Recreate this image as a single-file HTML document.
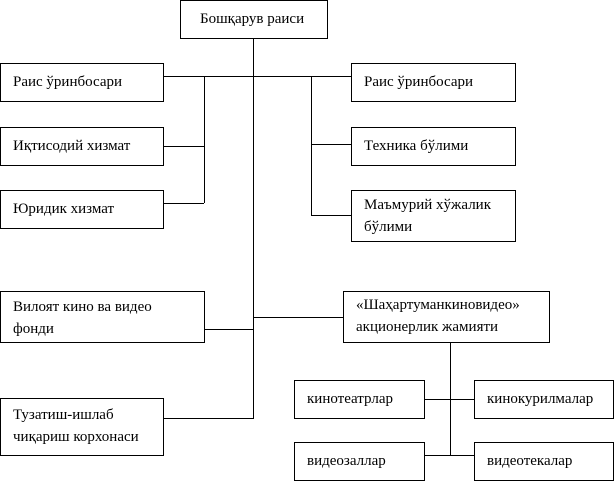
<!DOCTYPE html>
<html><head><meta charset="utf-8"><style>
body{margin:0;width:615px;height:482px;background:#fff;position:relative;overflow:hidden;font-family:"Liberation Serif","Times New Roman","DejaVu Serif",serif;font-size:15px;color:#000}
.b{position:absolute;border:1px solid #000;box-sizing:border-box;background:#fff;padding:0 0 0 12px;line-height:22px;white-space:nowrap}
.l{position:absolute;background:#000}
</style></head><body>
<div class="l" style="left:253px;top:38px;width:1px;height:381px"></div>
<div class="l" style="left:163px;top:76px;width:189px;height:1px"></div>
<div class="l" style="left:204px;top:76px;width:1px;height:127px"></div>
<div class="l" style="left:163px;top:146px;width:41px;height:1px"></div>
<div class="l" style="left:163px;top:203px;width:41px;height:1px"></div>
<div class="l" style="left:311px;top:76px;width:1px;height:140px"></div>
<div class="l" style="left:311px;top:144px;width:41px;height:1px"></div>
<div class="l" style="left:311px;top:215px;width:41px;height:1px"></div>
<div class="l" style="left:204px;top:329px;width:49px;height:1px"></div>
<div class="l" style="left:163px;top:418px;width:90px;height:1px"></div>
<div class="l" style="left:253px;top:317px;width:90px;height:1px"></div>
<div class="l" style="left:450px;top:342px;width:1px;height:113px"></div>
<div class="l" style="left:424px;top:399px;width:50px;height:1px"></div>
<div class="l" style="left:424px;top:455px;width:50px;height:1px"></div>

<div class="b" style="left:180px;top:0;width:148px;height:39px;padding-left:19px;line-height:36px">Бошқарув раиси</div>
<div class="b" style="left:0;top:63px;width:164px;height:39px;line-height:36px">Раис ўринбосари</div>
<div class="b" style="left:0;top:127px;width:164px;height:39px;line-height:36px">Иқтисодий хизмат</div>
<div class="b" style="left:0;top:190px;width:164px;height:39px;line-height:36px">Юридик хизмат</div>
<div class="b" style="left:351px;top:63px;width:165px;height:39px;line-height:36px">Раис ўринбосари</div>
<div class="b" style="left:351px;top:127px;width:165px;height:39px;line-height:36px">Техника бўлими</div>
<div class="b" style="left:351px;top:190px;width:165px;height:52px;padding-top:3px">Маъмурий хўжалик<br>бўлими</div>
<div class="b" style="left:0;top:291px;width:205px;height:52px;padding-top:4px">Вилоят кино ва видео<br>фонди</div>
<div class="b" style="left:0;top:398px;width:164px;height:58px;padding-top:5px">Тузатиш-ишлаб<br>чиқариш корхонаси</div>
<div class="b" style="left:343px;top:291px;width:207px;height:52px;padding-top:2px">«Шаҳартуманкиновидео»<br>акционерлик жамияти</div>
<div class="b" style="left:294px;top:380px;width:131px;height:39px;line-height:36px">кинотеатрлар</div>
<div class="b" style="left:474px;top:380px;width:140px;height:39px;line-height:36px">кинокурилмалар</div>
<div class="b" style="left:294px;top:442px;width:131px;height:39px;line-height:36px">видеозаллар</div>
<div class="b" style="left:474px;top:442px;width:140px;height:39px;line-height:36px">видеотекалар</div>
</body></html>
